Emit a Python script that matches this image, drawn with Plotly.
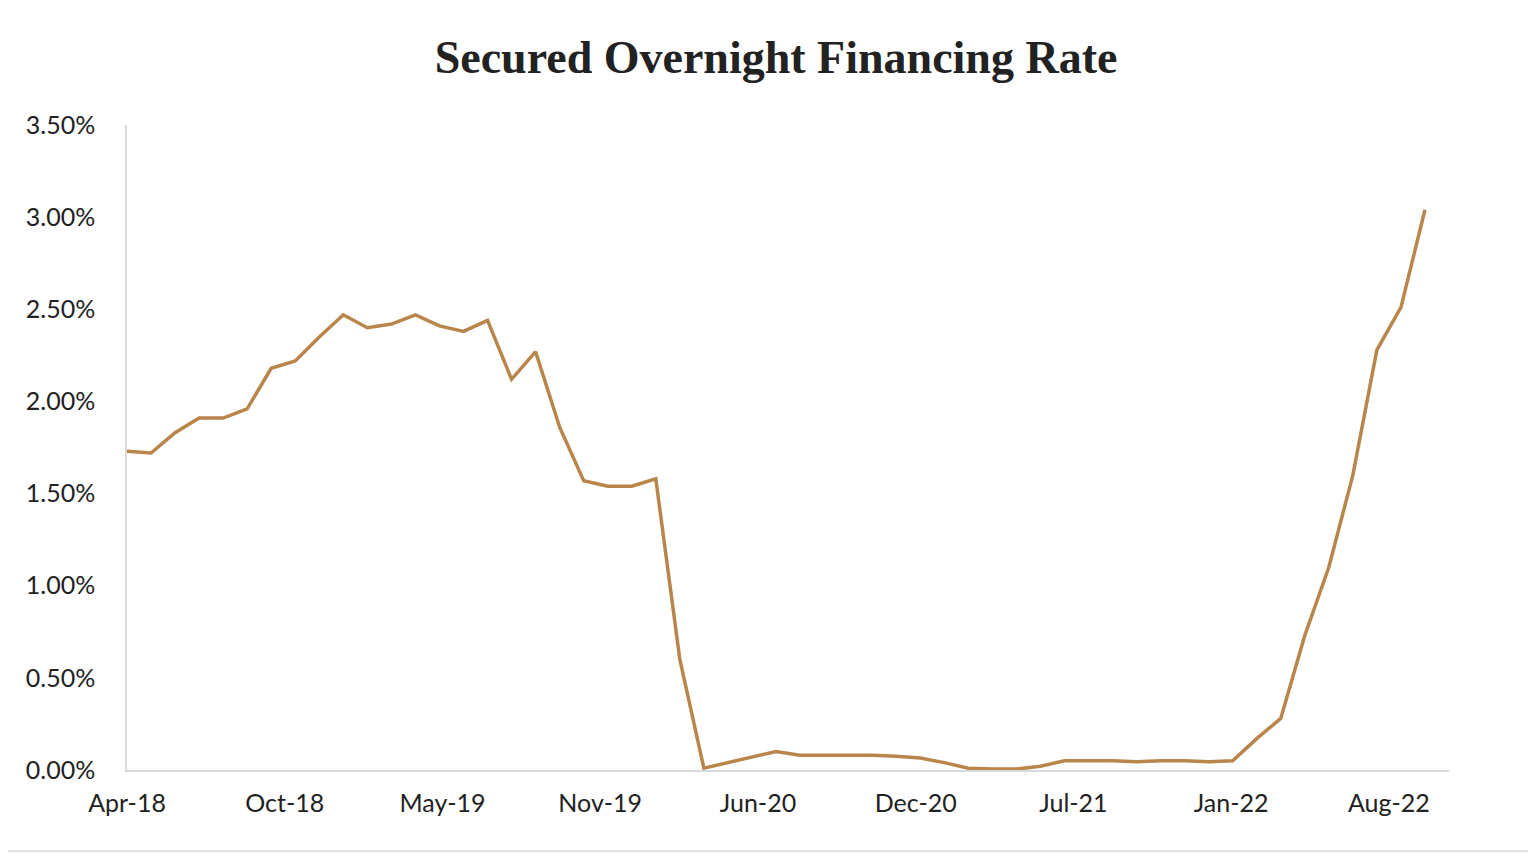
import plotly.graph_objects as go

rates = [1.73,1.72,1.83,1.91,1.91,1.96,2.18,2.22,2.35,2.47,2.40,2.42,2.47,2.41,2.38,2.44,2.12,2.27,1.86,1.57,
         1.54,1.54,1.58,0.60,0.01,0.04,0.07,0.10,0.08,0.08,0.08,0.08,0.075,0.065,0.04,0.01,0.005,0.005,0.02,0.05,
         0.05,0.05,0.045,0.05,0.05,0.045,0.05,0.17,0.28,0.73,1.10,1.60,2.28,2.51,3.04]
tick_labels = ["Apr-18","Oct-18","May-19","Nov-19","Jun-20","Dec-20","Jul-21","Jan-22","Aug-22"]
x = list(range(len(rates)))
tick_step = 52.5 / 8
tickvals = [i * tick_step for i in range(len(tick_labels))]

fig = go.Figure(go.Scatter(x=x, y=[r/100 for r in rates], mode="lines",
                           line=dict(color="#B8864B", width=3.5)))
fig.update_layout(
    width=1536, height=853, paper_bgcolor="white", plot_bgcolor="white",
    margin=dict(l=119, r=95, t=117, b=91),
    title=dict(text="<b>Secured Overnight Financing Rate</b>", x=0.5, xanchor="center", y=0.962,
               font=dict(family="Liberation Serif", size=46, color="#222")),
    font=dict(family="Lato", size=25, color="#222"),
    showlegend=False,
)
fig.update_xaxes(range=[0, 55], tickvals=tickvals, ticktext=tick_labels, showgrid=False,
                 showline=True, linecolor="#d9d9d9", linewidth=1.5, ticks="", zeroline=False,
                 ticklabelstandoff=10)
fig.update_yaxes(range=[0, 0.035], dtick=0.005, tickformat=".2%", showgrid=False,
                 showline=True, linecolor="#d9d9d9", linewidth=1.5, ticks="", zeroline=False,
                 ticklabelstandoff=25)
fig.add_shape(type="rect", xref="paper", yref="paper", x0=-0.093, x1=1.062, y0=-0.126, y1=1.189,
              line=dict(color="#d9d9d9", width=1.5))
fig.write_html("out.html")
